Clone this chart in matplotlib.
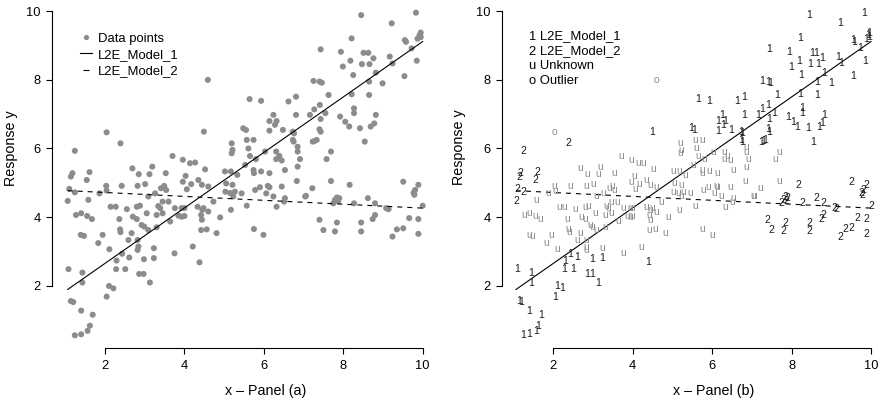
import matplotlib
matplotlib.use("Agg")
import matplotlib.pyplot as plt
from matplotlib.lines import Line2D
import numpy as np

plt.rcParams['font.family'] = ['Liberation Sans', 'DejaVu Sans']

# points assigned to model 1
x1 = [1.08, 1.14, 1.20, 1.40, 1.69, 1.24, 1.40, 1.56, 1.62, 1.43, 1.43, 2.04, 2.10, 2.21,
      2.29, 2.43, 2.28, 2.51, 2.61, 2.86, 2.97, 2.98, 3.13, 3.23, 4.38, 4.49, 5.48, 5.55,
      5.64, 5.93, 6.14, 6.24, 6.32, 6.14, 6.28, 6.48, 6.62, 6.81, 6.81, 6.73, 6.76, 6.73,
      6.75, 7.16, 7.25, 7.40, 7.46, 7.43, 7.27, 7.41, 7.43, 7.40, 7.23, 7.28, 7.33, 7.43,
      7.63, 7.55, 7.92, 7.94, 7.99, 8.05, 8.21, 8.18, 8.25, 8.21, 8.27, 8.27, 8.15, 8.45,
      8.51, 8.63, 8.47, 8.66, 8.76, 8.65, 8.65, 8.42, 8.54, 8.69, 8.78, 8.82, 8.82, 8.99,
      9.17, 9.24, 9.22, 9.55, 9.58, 9.54, 9.72, 9.83, 9.85, 9.87, 9.92, 9.95, 9.95]
y1 = [2.48, 1.55, 1.52, 1.27, 1.15, 0.55, 0.58, 0.68, 0.83, 2.38, 2.09, 1.68, 1.99, 1.92,
      2.73, 2.93, 2.48, 2.48, 2.82, 2.34, 2.34, 2.77, 2.09, 2.80, 2.68, 6.49, 6.59, 6.54,
      7.44, 7.39, 6.80, 6.98, 6.80, 6.52, 6.69, 6.54, 7.37, 7.51, 6.98, 6.49, 6.44, 6.25,
      6.20, 6.98, 7.97, 7.95, 7.92, 8.89, 7.14, 7.27, 6.86, 6.56, 6.20, 6.22, 6.25, 6.49,
      7.56, 7.03, 6.93, 8.82, 8.39, 6.78, 9.21, 8.56, 8.14, 7.58, 7.17, 7.03, 6.64, 9.89,
      8.79, 8.79, 8.46, 8.46, 8.63, 7.95, 7.56, 6.59, 6.20, 6.64, 6.73, 6.98, 8.21, 7.90,
      8.68, 8.48, 9.65, 9.16, 9.11, 8.11, 8.92, 9.96, 8.56, 9.20, 9.30, 9.38, 9.25]

# points assigned to model 2
x2 = [1.24, 1.14, 1.18, 1.61, 1.54, 1.10, 1.24, 1.06, 2.39, 7.40, 7.50, 7.79, 7.84, 7.79,
      7.84, 7.90, 7.87, 7.75, 8.16, 8.27, 8.45, 8.45, 8.62, 8.80, 8.74, 8.80, 9.08, 9.14,
      9.24, 9.35, 9.51, 9.51, 9.66, 9.77, 9.81, 9.79, 9.89, 9.89, 9.89, 10.0]
y2 = [5.93, 5.18, 5.28, 5.31, 5.08, 4.82, 4.72, 4.47, 6.15, 3.92, 3.62, 3.58, 3.84, 4.50,
      4.57, 4.55, 4.46, 4.40, 4.94, 4.40, 3.84, 3.58, 4.55, 4.40, 3.94, 4.06, 4.26, 4.23,
      3.43, 3.64, 5.03, 3.67, 3.97, 4.71, 4.79, 4.65, 4.94, 3.94, 3.51, 4.33]

# unknown points
xu = [1.27, 1.40, 1.55, 1.67, 1.58, 1.39, 1.47, 1.83, 1.94, 1.86, 2.03, 2.04, 2.42, 2.14,
      2.27, 2.36, 2.55, 2.38, 2.39, 2.59, 2.11, 2.69, 2.85, 2.82, 2.70, 2.80, 2.67, 2.80,
      2.88, 2.82, 2.84, 2.82, 2.92, 2.99, 3.01, 3.12, 3.19, 3.09, 3.05, 3.09, 3.23, 3.26,
      3.30, 3.34, 3.39, 3.45, 3.41, 3.53, 3.49, 3.54, 3.45, 3.60, 3.64, 3.30, 3.70, 3.76,
      3.75, 3.85, 3.93, 4.00, 3.93, 3.96, 3.96, 4.03, 4.06, 4.17, 4.14, 4.27, 4.00, 4.21,
      4.35, 4.44, 4.33, 4.42, 4.45, 4.44, 4.42, 4.56, 4.52, 4.60, 4.60, 4.48, 4.73, 4.81,
      4.90, 5.02, 5.05, 5.03, 5.19, 5.19, 5.21, 5.17, 5.21, 5.23, 5.17, 5.27, 5.15, 5.33,
      5.44, 5.57, 5.61, 5.74, 5.65, 5.53, 5.57, 5.74, 5.75, 5.80, 5.78, 5.90, 5.93, 5.75,
      5.99, 6.03, 6.06, 6.10, 6.14, 6.14, 6.24, 6.31, 6.39, 6.31, 6.45, 6.53, 6.45, 6.32,
      6.53, 6.51, 6.85, 6.85, 6.91, 6.85, 6.83, 7.04, 7.06, 7.22, 7.58, 7.69, 7.69]
yu = [4.06, 4.11, 4.03, 3.94, 4.50, 3.48, 3.45, 3.24, 3.48, 4.69, 4.91, 4.77, 4.91, 4.30,
      4.30, 3.94, 4.23, 3.64, 3.56, 3.33, 3.06, 5.42, 5.25, 4.91, 4.01, 3.94, 3.53, 4.30,
      4.33, 3.33, 3.14, 3.04, 3.77, 3.72, 4.96, 5.25, 5.47, 4.60, 4.11, 3.62, 3.09, 4.69,
      4.06, 4.32, 4.26, 4.11, 4.84, 5.28, 4.91, 4.79, 4.45, 4.45, 3.87, 3.70, 5.78, 4.26,
      2.94, 4.04, 4.01, 4.03, 4.26, 5.03, 5.67, 5.20, 4.81, 4.96, 5.57, 5.59, 4.26, 3.14,
      5.08, 4.94, 4.30, 4.06, 4.21, 3.92, 3.62, 3.64, 5.39, 4.89, 4.16, 4.26, 4.45, 3.53,
      3.99, 5.33, 4.98, 4.74, 6.15, 5.86, 5.96, 5.33, 4.94, 4.60, 4.21, 4.74, 4.70, 5.23,
      4.69, 6.25, 6.00, 6.25, 5.78, 5.52, 4.33, 5.37, 5.28, 5.69, 4.79, 4.87, 5.33, 3.65,
      3.48, 5.91, 4.69, 4.91, 4.87, 5.28, 4.60, 5.91, 5.78, 5.69, 5.65, 5.37, 4.89, 4.30,
      4.55, 4.45, 6.05, 5.91, 5.69, 5.47, 5.05, 4.60, 4.62, 4.84, 5.69, 5.91, 5.05]

# outliers
xo = [2.04, 4.59]
yo = [6.47, 8.00]

# fitted lines: intercept, slope
model_1 = (1.03, 0.809)
model_2 = (4.83, -0.057)

x_all = np.array(x1 + x2 + xu + xo)
y_all = np.array(y1 + y2 + yu + yo)
xl = np.array([x_all.min(), x_all.max()])

gray = '#8c8c8c'
dark = '#1a1a1a'

fig = plt.figure(figsize=(8.85, 4.05), dpi=100)
axa = fig.add_axes([52 / 885, 57 / 405, 385 / 885, 348.67 / 405])
axb = fig.add_axes([502.3 / 885, 57 / 405, 383 / 885, 348.67 / 405])

for ax in (axa, axb):
    ax.plot(xl, model_1[0] + model_1[1] * xl, color='black', lw=0.8)
    ax.plot(xl, model_2[0] + model_2[1] * xl, color='black', lw=0.8, dashes=(4.5, 4.5))
    ax.set_ylim(0.18, 10.35)
    ax.set_xticks([2, 4, 6, 8, 10])
    ax.set_yticks([2, 4, 6, 8, 10])
    for s in ['top', 'right']:
        ax.spines[s].set_visible(False)
    ax.spines['left'].set_bounds(2, 10)
    ax.spines['bottom'].set_bounds(2, 10)
    ax.spines['left'].set_linewidth(0.8)
    ax.spines['bottom'].set_linewidth(0.8)
    ax.tick_params(direction='out', length=4.3, width=0.8, pad=4, labelsize=9.3)
    ax.set_ylabel('Response y', fontsize=10.3)
    ax.patch.set_visible(False)

axa.set_xlim(0.665, 10.36)
axb.set_xlim(0.715, 10.36)

# panel (a)
axa.scatter(x_all, y_all, s=19, color=gray, edgecolors='none', zorder=1)
axa.set_xlabel('x \u2013 Panel (a)', fontsize=10.3)
axa.xaxis.set_label_coords(0.556, -0.102)
axa.yaxis.set_label_coords(-0.088, 0.573)
handles = [Line2D([], [], ls='none', marker='o', ms=3.8, color=gray, mec='none'),
           Line2D([], [], color='black', lw=0.8),
           Line2D([], [], ls='none', marker='_', ms=4, mew=0.8, color='black')]
axa.legend(handles, ['Data points', 'L2E_Model_1', 'L2E_Model_2'],
           loc='upper left', bbox_to_anchor=(0.073, 0.905), frameon=False,
           fontsize=9.4, handlelength=0.9, handletextpad=0.45, labelspacing=0.33,
           borderpad=0, borderaxespad=0)

# panel (b)
for xs, ys, ch, col in [(xu, yu, 'u', gray), (xo, yo, 'o', gray),
                        (x1, y1, '1', dark), (x2, y2, '2', dark)]:
    for xv, yv in zip(xs, ys):
        axb.text(xv, yv, ch, color=col, fontsize=7.5, ha='center', va='center')
axb.set_xlabel('x \u2013 Panel (b)', fontsize=10.3)
axb.xaxis.set_label_coords(0.553, -0.102)
axb.yaxis.set_label_coords(-0.095, 0.577)
axb.text(0.07, 0.911, '1 L2E_Model_1\n2 L2E_Model_2\nu Unknown\no Outlier',
         transform=axb.transAxes, fontsize=9.4, ha='left', va='top',
         linespacing=1.32)

fig.savefig('out.png', dpi=100)
